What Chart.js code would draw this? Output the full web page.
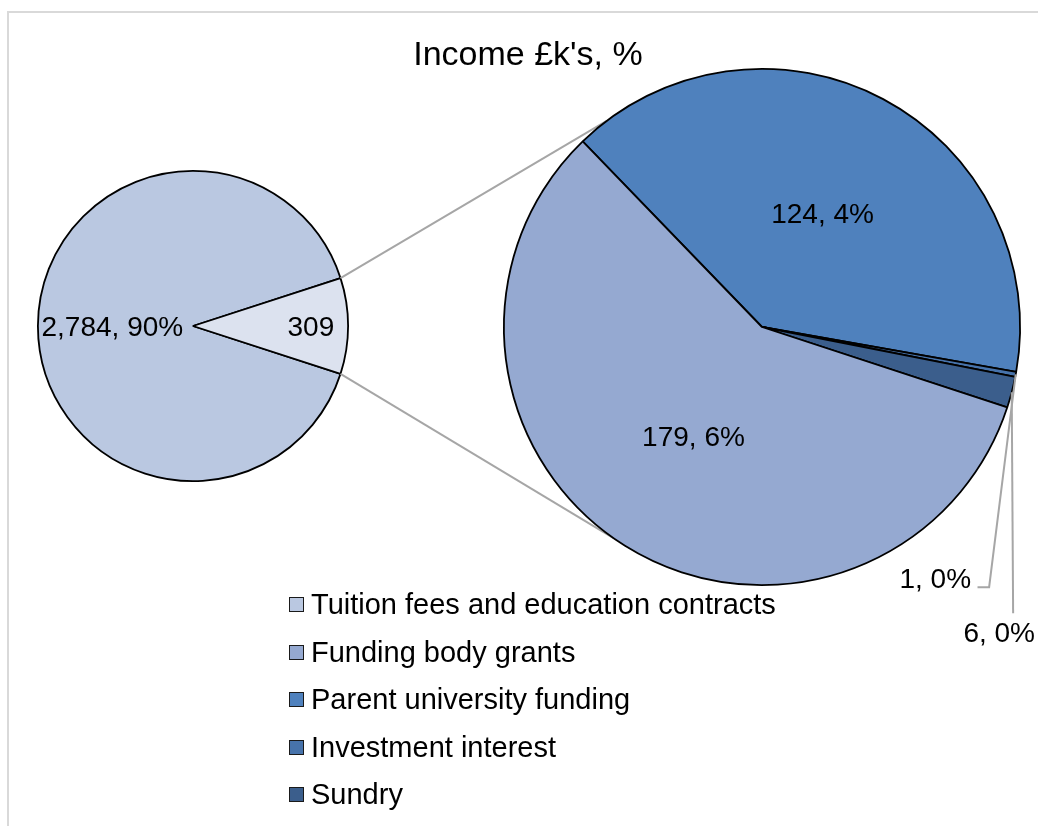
<!DOCTYPE html>
<html>
<head>
<meta charset="utf-8">
<title>Income £k's, %</title>
<script src="https://cdn.jsdelivr.net/npm/chart.js@4.4.1/dist/chart.umd.min.js"></script>
<style>
  html, body { margin: 0; padding: 0; background: #fff; overflow: hidden; }
  #wrap { position: relative; width: 1038px; height: 826px; font-family: Arial, "Liberation Sans", sans-serif; }
  #frame { position: absolute; left: 7px; top: 11px; width: 1100px; height: 900px; border: 2px solid #d9d9d9; box-sizing: border-box; }
  canvas { position: absolute; left: 0; top: 0; }
  #title { position: absolute; left: 0; top: 36px; width: 1056px; text-align: center; font-size: 34px; line-height: 34px; color: #000; }
  #legend { position: absolute; left: 289px; top: 581px; margin: 0; padding: 0; list-style: none; }
  #legend li { height: 47.5px; display: flex; align-items: center; font-size: 29px; color: #000; }
  #legend span.box { width: 13px; height: 13px; border: 1.5px solid #1a1a1a; margin-right: 7px; flex: none; }
</style>
</head>
<body>
<div id="wrap">
  <div id="frame"></div>
  <canvas id="mainPie" width="1038" height="826"></canvas>
  <canvas id="splitPie" width="1038" height="826"></canvas>
  <div id="title">Income £k's, %</div>
  <ul id="legend"></ul>
</div>
<script>
// legend categories, in the order of the reference
const categories = ['Tuition fees and education contracts', 'Funding body grants', 'Parent university funding', 'Investment interest', 'Sundry'];
const categoryColours = ['#bac8e1', '#95a9d1', '#4f81bd', '#4773ab', '#3b5e8c'];

// first pie: tuition vs. everything else (split out to the second pie)
const mainLabels = ['Tuition fees and education contracts', 'Other'];
const mainValues = [2784, 309];
const mainColours = ['#bac8e1', '#dce2ef'];

// second pie, clockwise from the upper-left edge
const splitLabels = ['Parent university funding', 'Investment interest', 'Sundry', 'Funding body grants'];
const splitValues = [124, 1, 6, 179];
const splitColours = ['#4f81bd', '#4773ab', '#3b5e8c', '#95a9d1'];

const grandTotal = mainValues.reduce((a, b) => a + b, 0);
const FONT = '28px Arial, "Liberation Sans", sans-serif';
const rad = d => d * Math.PI / 180;

// legend
const legend = document.getElementById('legend');
categories.forEach((c, i) => {
  const li = document.createElement('li');
  li.innerHTML = '<span class="box" style="background:' + categoryColours[i] + '"></span>' + c;
  legend.appendChild(li);
});

function pct(v) {
  return v.toLocaleString('en-GB') + ', ' + Math.round(v / grandTotal * 100) + '%';
}

function midPoint(arc, frac) {
  const a = (arc.startAngle + arc.endAngle) / 2;
  return [arc.x + Math.cos(a) * arc.outerRadius * frac, arc.y + Math.sin(a) * arc.outerRadius * frac];
}

// labels inside the first pie
const mainLabelPlugin = {
  id: 'mainLabels',
  afterDatasetsDraw(chart) {
    const ctx = chart.ctx;
    const arcs = chart.getDatasetMeta(0).data;
    const texts = [pct(mainValues[0]), mainValues[1].toLocaleString('en-GB')];
    const fracs = [0.52, 0.76];
    ctx.save();
    ctx.font = FONT;
    ctx.fillStyle = '#000';
    ctx.textAlign = 'center';
    ctx.textBaseline = 'middle';
    arcs.forEach((arc, i) => {
      const [x, y] = midPoint(arc, fracs[i]);
      ctx.fillText(texts[i], x, y + 2);
    });
    ctx.restore();
  }
};

const mainChart = new Chart(document.getElementById('mainPie'), {
  type: 'pie',
  data: {
    labels: mainLabels,
    datasets: [{
      data: mainValues,
      backgroundColor: mainColours,
      borderColor: '#000',
      borderWidth: 1.8
    }]
  },
  options: {
    responsive: false,
    animation: false,
    rotation: 90 + mainValues[1] / grandTotal * 180,
    layout: { padding: { left: 37, top: 170, right: 689, bottom: 344 } },
    plugins: { legend: { display: false }, tooltip: { enabled: false } }
  },
  plugins: [mainLabelPlugin]
});

// connector lines between the pies, and labels of the second pie
const splitPlugin = {
  id: 'splitDecor',
  beforeDatasetsDraw(chart) {
    const ctx = chart.ctx;
    const small = mainChart.getDatasetMeta(0).data[1];
    const big = chart.getDatasetMeta(0).data[0];
    const ends = [
      [small.startAngle, rad(-127)],
      [small.endAngle, rad(125)]
    ];
    ctx.save();
    ctx.strokeStyle = '#a6a6a6';
    ctx.lineWidth = 2;
    ends.forEach(([a0, a1]) => {
      ctx.beginPath();
      ctx.moveTo(small.x + Math.cos(a0) * small.outerRadius, small.y + Math.sin(a0) * small.outerRadius);
      ctx.lineTo(big.x + Math.cos(a1) * big.outerRadius, big.y + Math.sin(a1) * big.outerRadius);
      ctx.stroke();
    });
    ctx.restore();
  },
  afterDatasetsDraw(chart) {
    const ctx = chart.ctx;
    const arcs = chart.getDatasetMeta(0).data;
    const R = arcs[0].outerRadius, cx = arcs[0].x, cy = arcs[0].y;
    ctx.save();
    ctx.font = FONT;
    ctx.fillStyle = '#000';
    ctx.textBaseline = 'middle';
    ctx.textAlign = 'center';
    // the two large slices, inside
    [0, 3].forEach(i => {
      const [x, y] = midPoint(arcs[i], 0.5);
      ctx.fillText(pct(splitValues[i]), x, y + 2);
    });
    // the two tiny slices, outside with leader lines
    ctx.strokeStyle = '#a6a6a6';
    ctx.lineWidth = 2;
    let [x, y] = midPoint(arcs[1], 1);
    ctx.beginPath();
    ctx.moveTo(x, y);
    ctx.lineTo(cx + 0.88 * R, cy + 1.008 * R);
    ctx.lineTo(cx + 0.835 * R, cy + 1.008 * R);
    ctx.stroke();
    ctx.textAlign = 'right';
    ctx.fillText(pct(splitValues[1]), cx + 0.81 * R, cy + 0.98 * R);

    [x, y] = midPoint(arcs[2], 1);
    ctx.beginPath();
    ctx.moveTo(x, y);
    ctx.lineTo(cx + 0.973 * R, cy + 1.109 * R);
    ctx.stroke();
    ctx.textAlign = 'center';
    ctx.fillText(pct(splitValues[2]), cx + 0.919 * R, cy + 1.19 * R);
    ctx.restore();
  }
};

const splitChart = new Chart(document.getElementById('splitPie'), {
  type: 'pie',
  data: {
    labels: splitLabels,
    datasets: [{
      data: splitValues,
      backgroundColor: splitColours,
      borderColor: '#000',
      borderWidth: 1.8
    }]
  },
  options: {
    responsive: false,
    animation: false,
    rotation: -44,
    layout: { padding: { left: 503, top: 68, right: 17, bottom: 240 } },
    plugins: { legend: { display: false }, tooltip: { enabled: false } }
  },
  plugins: [splitPlugin]
});
</script>
</body>
</html>
